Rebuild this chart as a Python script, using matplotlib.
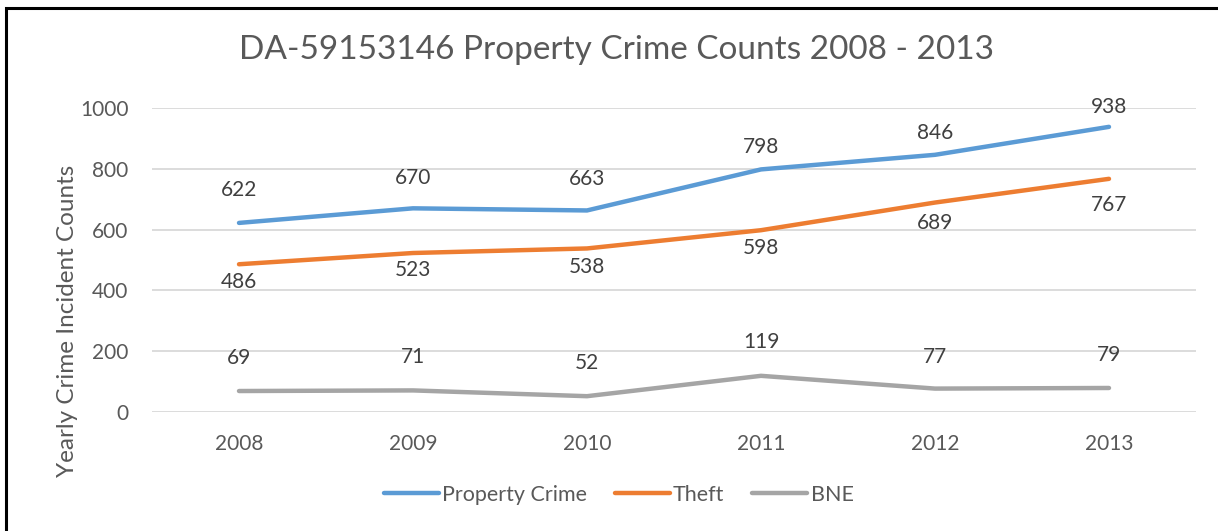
import matplotlib.pyplot as plt
from matplotlib.patches import Rectangle

years = ['2008', '2009', '2010', '2011', '2012', '2013']
property_crime = [622, 670, 663, 798, 846, 938]
theft = [486, 523, 538, 598, 689, 767]
bne = [69, 71, 52, 119, 77, 79]

# label offsets in points (Excel nudges some labels closer to the line)
pc_off = [24, 22, 23, 16, 16, 14]
theft_off = [-13, -12, -13, -13, -15, -19]
bne_off = [24, 24, 24, 24, 23, 24]

plt.rcParams['font.family'] = ['Lato', 'DejaVu Sans']
txt = '#595959'

fig = plt.figure(figsize=(12.18, 5.31), dpi=100)
ax = fig.add_axes([152/1218, 1-412/531, (1196-152)/1218, (412-108)/531])

x = range(len(years))
ax.plot(x, property_crime, color='#5B9BD5', lw=3.2, solid_capstyle='round', label='Property Crime')
ax.plot(x, theft, color='#ED7D31', lw=3.2, solid_capstyle='round', label='Theft')
ax.plot(x, bne, color='#A5A5A5', lw=3.2, solid_capstyle='round', label='BNE')

for vals, offs in [(property_crime, pc_off), (theft, theft_off), (bne, bne_off)]:
    for i in x:
        ax.annotate(str(vals[i]), (i, vals[i]), xytext=(0, offs[i]), textcoords='offset points',
                    ha='center', va='center', fontsize=15, color='#404040')

ax.set_xlim(-0.5, 5.5)
ax.set_ylim(0, 1000)
ax.set_yticks([0, 200, 400, 600, 800, 1000])
ax.set_xticks(list(x))
ax.set_xticklabels(years)
ax.tick_params(axis='both', length=0, labelsize=15, labelcolor=txt)
ax.tick_params(axis='x', pad=16)
ax.tick_params(axis='y', pad=17)
ax.grid(axis='y', color='#D9D9D9', lw=1.3)
ax.set_axisbelow(True)
for s in ax.spines.values():
    s.set_visible(False)

ax.set_ylabel('Yearly Crime Incident Counts', fontsize=17.5, color=txt)
ax.yaxis.set_label_coords(-0.071, 0.30)

fig.text(0.506, 1-50/531, 'DA-59153146 Property Crime Counts 2008 - 2013', ha='center', va='center',
         fontsize=24, color=txt)

leg = fig.legend(loc='center', bbox_to_anchor=(0.508, 1-495/531), ncol=3, frameon=False,
                 fontsize=15.5, handlelength=2.55, handletextpad=0.15, columnspacing=1.3)
for t in leg.get_texts():
    t.set_color(txt)

# chart frame
fig.patches.append(Rectangle((6/1218, -0.1), 1.2, 1-8/531+0.1, transform=fig.transFigure,
                             fill=False, edgecolor='black', lw=2.2))

fig.savefig('out.png', dpi=100)
